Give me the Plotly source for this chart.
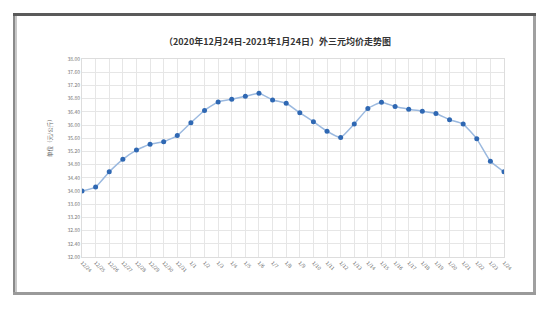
import plotly.graph_objects as go

dates = ["12/24", "12/25", "12/26", "12/27", "12/28", "12/29", "12/30", "12/31",
         "1/1", "1/2", "1/3", "1/4", "1/5", "1/6", "1/7", "1/8", "1/9", "1/10",
         "1/11", "1/12", "1/13", "1/14", "1/15", "1/16", "1/17", "1/18", "1/19",
         "1/20", "1/21", "1/22", "1/23", "1/24"]
prices = [34.00, 34.12, 34.58, 34.96, 35.24, 35.42, 35.49, 35.68,
          36.07, 36.44, 36.70, 36.78, 36.87, 36.96, 36.76, 36.66, 36.37, 36.10,
          35.81, 35.62, 36.03, 36.50, 36.69, 36.56, 36.48, 36.42, 36.35,
          36.16, 36.03, 35.58, 34.90, 34.58]
y_ticks = [32 + 0.4 * i for i in range(16)]
title_text = "（2020年12月24日-2021年1月24日）外三元均价走势图"
y_title = "单位（元/公斤）"

W, H = 550, 309
L, R, T, B = 82, 46, 59, 52
PW, PH = W - L - R, H - T - B

def px(x):
    return (x - L) / PW

def py(y):
    return (H - B - y) / PH

fig = go.Figure()
fig.add_trace(go.Scatter(
    x=dates, y=prices, mode="lines+markers",
    line=dict(color="#9bb9df", width=1.5, shape="spline", smoothing=0.4),
    marker=dict(color="#2f68b3", size=5),
    hoverinfo="x+y",
))

font_cjk = "Noto Sans CJK SC, Noto Sans, sans-serif"

fig.update_layout(
    width=W, height=H,
    margin=dict(l=L, r=R, t=T, b=B),
    paper_bgcolor="white", plot_bgcolor="white",
    showlegend=False,
    font=dict(family=font_cjk, size=5, color="#666"),
    xaxis=dict(
        type="category", range=[0, len(dates) - 1],
        showgrid=True, gridcolor="#e6e6e6", gridwidth=1,
        tickangle=45, tickfont=dict(size=5, color="#666"),
        showline=True, linecolor="#dddddd", mirror=True,
        ticks="", zeroline=False,
    ),
    yaxis=dict(
        range=[32, 38], tickvals=y_ticks,
        ticktext=[f"{v:.2f}" for v in y_ticks],
        showgrid=True, gridcolor="#e6e6e6", gridwidth=1,
        tickfont=dict(size=5, color="#777"),
        showline=True, linecolor="#dddddd", mirror=True,
        ticks="", zeroline=False,
    ),
    annotations=[
        dict(text="<b>" + title_text + "</b>", x=px(277), y=py(33),
             xref="paper", yref="paper", showarrow=False,
             font=dict(family=font_cjk, size=9, color="#333")),
        dict(text=y_title, x=px(44), y=py(137), xref="paper", yref="paper",
             showarrow=False, textangle=-90,
             font=dict(family=font_cjk, size=5.5, color="#666")),
    ],
)

shapes = [
    # top frame edge (dark)
    dict(type="rect", x0=px(13), x1=px(536), y0=py(13), y1=py(16),
         fillcolor="#5a5a5a", line=dict(width=0)),
    # left frame edge (gradient)
    dict(type="rect", x0=px(13), x1=px(15), y0=py(16), y1=py(294),
         fillcolor="#8a8a8a", line=dict(width=0)),
    dict(type="rect", x0=px(15), x1=px(17), y0=py(16), y1=py(294),
         fillcolor="#c8c8c8", line=dict(width=0)),
    # right frame edge
    dict(type="rect", x0=px(533), x1=px(536), y0=py(16), y1=py(295),
         fillcolor="#a0a0a0", line=dict(width=0)),
    # bottom frame edge
    dict(type="rect", x0=px(13), x1=px(536), y0=py(292), y1=py(295),
         fillcolor="#9a9a9a", line=dict(width=0)),
]
for s in shapes:
    s.update(xref="paper", yref="paper", layer="above")
fig.update_layout(shapes=shapes)

fig.write_html("out.html")
